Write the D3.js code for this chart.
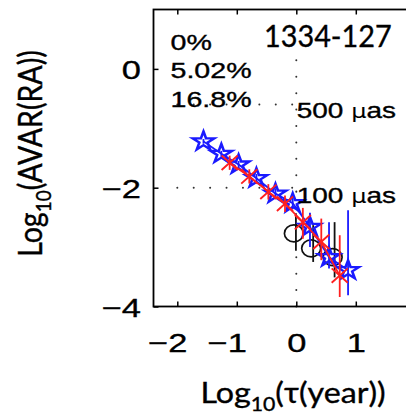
<!DOCTYPE html>
<html><head><meta charset="utf-8">
<script src="https://cdn.jsdelivr.net/npm/d3@7"></script>
<style>body{margin:0;background:#fff;overflow:hidden} svg{display:block}</style>
</head><body>
<script>
// ---- data ----
const xTicks = [-2, -1, 0, 1];
const xTickLabels = ["\u22122", "\u22121", "0", "1"];
const yTicks = [-4, -2, 0];
const yTickLabels = ["\u22124", "\u22122", "0"];
const legendTexts = ["0%", "5.02%", "16.8%"];
const titleText = "1334-127";
const refLevels = [-0.6, -2];            // log10 AVAR for 500 µas and 100 µas
const refLabels = ["500 ", "100 "];

// black circles (0%)
const blackTau  = [-0.04, 0.25, 0.61];
const blackAvar = [-2.77, -3.02, -3.17];
const blackHi   = [-2.43, -2.63, -2.58];
const blackLo   = [-3.06, -3.25, -3.51];

// blue stars (5.02%)
const blueTau  = [-1.56, -1.26, -0.97, -0.67, -0.35, -0.06, 0.23, 0.55, 0.87];
const blueAvar = [-1.22, -1.43, -1.61, -1.84, -2.10, -2.26, -2.66, -3.17, -3.39];
const blueHi   = [-1.18, -1.38, -1.55, -1.77, -2.02, -2.16, -2.42, -2.58, -2.38];
const blueLo   = [-1.26, -1.48, -1.67, -1.91, -2.18, -2.36, -3.00, -3.36, -3.81];

// red crosses (16.8%)
const redTau  = [-1.12, -0.79, -0.47, -0.19, 0.11, 0.42, 0.73];
const redAvar = [-1.58, -1.81, -2.07, -2.27, -2.58, -2.91, -3.48];
const redHi   = [-1.46, -1.69, -1.94, -2.13, -2.34, -2.52, -2.80];
const redLo   = [-1.70, -1.93, -2.20, -2.41, -2.86, -3.22, -3.84];

// ---- layout ----
const W = 406, H = 414;
const SX = 1.3;   // horizontal stretch of the reference picture (Arial-like texts)
const x = d3.scaleLinear([-2.4, 2.4], [153.5, 439.1]);
const y = d3.scaleLinear([-4, 1], [306.5, 9.5]);
const refLabelDy = [13, 15.5];
const tickFs = 26.5;

const svg = d3.select("body").append("svg").attr("width", W).attr("height", H);

// reference dotted lines
const dotted = svg.append("g").attr("stroke", "#333").attr("stroke-width", 2)
  .attr("stroke-linecap", "round").attr("stroke-dasharray", "0.01 16.4").attr("fill", "none");
refLevels.forEach(v => {
  dotted.append("line").attr("x1", x(-2)).attr("x2", x(0)).attr("y1", y(v)).attr("y2", y(v));
});
dotted.append("line").attr("x1", x(0)).attr("x2", x(0)).attr("y1", y(-4)).attr("y2", y(0.16));

// ---- series ----
const toPts = (xs, ys) => xs.map((t, i) => [x(t), y(ys[i])]);

// black
const gB = svg.append("g");
blackTau.forEach((t, i) => {
  gB.append("line").attr("x1", x(t) + 2).attr("x2", x(t) + 2).attr("y1", y(blackHi[i])).attr("y2", y(blackLo[i]))
    .attr("stroke", "#111").attr("stroke-width", 1.8);
  gB.append("ellipse").attr("cx", x(t)).attr("cy", y(blackAvar[i])).attr("rx", 9.5).attr("ry", 8.5)
    .attr("fill", "none").attr("stroke", "#111").attr("stroke-width", 1.7);
});

// blue
const blue = "#1a1aff", red = "#ff2020";
const gBl = svg.append("g");
gBl.append("path").attr("d", d3.line()(toPts(blueTau, blueAvar)))
  .attr("fill", "none").attr("stroke", blue).attr("stroke-width", 1.8);
blueTau.forEach((t, i) => {
  gBl.append("line").attr("x1", x(t)).attr("x2", x(t)).attr("y1", y(blueHi[i])).attr("y2", y(blueLo[i]))
    .attr("stroke", blue).attr("stroke-width", 1.8);
});
const star = d3.symbol().type(d3.symbolStar).size(110);
blueTau.forEach((t, i) => {
  gBl.append("path").attr("d", star())
    .attr("transform", `translate(${x(t)},${y(blueAvar[i])}) scale(1.15,1)`)
    .attr("fill", "none").attr("stroke", blue).attr("stroke-width", 2.3);
});

// red
const gR = svg.append("g");
gR.append("path").attr("d", d3.line()(toPts(redTau, redAvar)))
  .attr("fill", "none").attr("stroke", red).attr("stroke-width", 1.8);
redTau.forEach((t, i) => {
  gR.append("line").attr("x1", x(t)).attr("x2", x(t)).attr("y1", y(redHi[i])).attr("y2", y(redLo[i]))
    .attr("stroke", red).attr("stroke-width", 1.8);
  const cx = x(t), cy = y(redAvar[i]), s = 7.2;
  gR.append("path").attr("d", `M${cx - s * 1.12},${cy - s}L${cx + s * 1.12},${cy + s}M${cx - s * 1.12},${cy + s}L${cx + s * 1.12},${cy - s}`)
    .attr("stroke", red).attr("stroke-width", 1.9).attr("fill", "none");
});

// ---- axes box ----
svg.append("rect").attr("x", x(-2.4)).attr("y", y(1)).attr("width", x(2.4) - x(-2.4)).attr("height", y(-4) - y(1))
  .attr("fill", "none").attr("stroke", "#000").attr("stroke-width", 1.8);

const font = "'Liberation Sans', Arial, sans-serif";
const font2 = "Lato, 'Open Sans', sans-serif";
const thicken = sel => sel.attr("stroke", "#000").attr("stroke-width", 0.35);

const ax = svg.append("g").attr("transform", `translate(0,${y(-4)})`)
  .call(d3.axisBottom(x).tickValues(xTicks).tickFormat((d, i) => xTickLabels[i]).tickSizeInner(-5).tickSizeOuter(0));
ax.select(".domain").remove();
ax.selectAll("line").attr("stroke-width", 1.5);
ax.selectAll("text").attr("y", 45.5).attr("dy", null).attr("font-family", font).attr("font-size", tickFs)
  .attr("fill", "#000").attr("transform", `scale(${SX},1)`)
  // digit centred on the tick, minus sign hanging to the left
  .each(function (d, i) {
    if (xTickLabels[i].startsWith("\u2212")) {
      d3.select(this).attr("text-anchor", "end").attr("x", 0.278 * tickFs);
    }
  })
  .call(thicken);

const axT = svg.append("g").attr("transform", `translate(0,${y(1)})`)
  .call(d3.axisTop(x).tickValues(xTicks).tickFormat("").tickSizeInner(-5).tickSizeOuter(0));
axT.select(".domain").remove();
axT.selectAll("line").attr("stroke-width", 1.5);

const ay = svg.append("g").attr("transform", `translate(${x(-2.4)},0)`)
  .call(d3.axisLeft(y).tickValues(yTicks).tickFormat((d, i) => yTickLabels[i]).tickSizeInner(-5).tickSizeOuter(0));
ay.select(".domain").remove();
ay.selectAll("line").attr("stroke-width", 1.5);
ay.selectAll("text").attr("x", -9.6).attr("dy", "0.36em").attr("font-family", font).attr("font-size", tickFs)
  .attr("fill", "#000").attr("transform", `scale(${SX},1)`).call(thicken);

// ---- texts ----
legendTexts.forEach((t, i) => {
  svg.append("text").attr("transform", `translate(170.5,${50 + i * 28.3}) scale(${SX},1)`)
    .attr("font-family", font).attr("font-size", 22).text(t).call(thicken);
});
svg.append("text").attr("transform", `translate(264,46.5) scale(0.93,1)`)
  .attr("font-family", font2).attr("font-size", 31).text(titleText).call(thicken);

refLevels.forEach((v, i) => {
  const t = svg.append("text").attr("transform", `translate(${x(0) + 0.5},${y(v) + refLabelDy[i]}) scale(1.27,1)`)
    .attr("font-family", font).attr("font-size", 22).call(thicken);
  t.append("tspan").text(refLabels[i]);
  t.append("tspan").attr("font-family", "'DejaVu Sans', sans-serif").attr("font-size", 19).attr("stroke-width", 0).text("\u03bc");
  t.append("tspan").text("as");
});

// x label
const xl = svg.append("text").attr("transform", `translate(293,403) scale(1.15,1)`)
  .attr("text-anchor", "middle").attr("font-family", font2).attr("font-size", 28).call(thicken);
xl.append("tspan").text("Log");
xl.append("tspan").attr("font-size", 18.5).attr("dy", 8).text("10");
xl.append("tspan").attr("dy", -8).text("(\u03c4(year))");

// y label
const yl = svg.append("text").attr("transform", `translate(42,153.5) scale(1.15,1) rotate(-90)`)
  .attr("text-anchor", "middle").attr("font-family", font2).attr("font-size", 28.5).call(thicken);
yl.append("tspan").text("Log");
yl.append("tspan").attr("font-size", 19).attr("dy", 8).text("10");
yl.append("tspan").attr("dy", -8).text("(AVAR(RA))");
</script>
</body></html>
